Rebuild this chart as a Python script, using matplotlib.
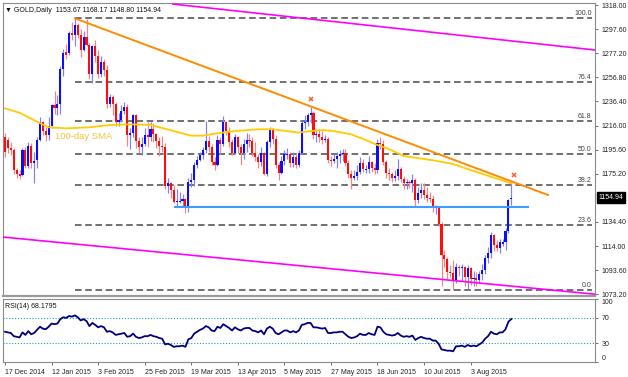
import matplotlib
matplotlib.use('Agg')
import matplotlib.pyplot as plt

plt.rcParams['font.family'] = ['Liberation Sans', 'DejaVu Sans']
plt.rcParams['font.size'] = 5

# ── data (daily bars, 17 Dec 2014 .. 21 Aug 2015) ────────────────────────────
opens = [
    1206, 1204, 1197, 1195, 1178, 1175, 1174, 1195, 1182, 1199,
    1184, 1187, 1204, 1219, 1211, 1208, 1216, 1233, 1231, 1234,
    1264, 1278, 1277, 1294, 1293, 1301, 1293, 1280, 1291, 1284,
    1260, 1283, 1275, 1260, 1270, 1263, 1234, 1240, 1234, 1219,
    1221, 1228, 1232, 1208, 1210, 1225, 1203, 1198, 1200, 1208,
    1206, 1213, 1209, 1203, 1199, 1198, 1165, 1167, 1161, 1151,
    1151, 1152, 1154, 1148, 1168, 1170, 1183, 1187, 1191, 1195,
    1203, 1198, 1185, 1183, 1204, 1200, 1219, 1211, 1202, 1193,
    1206, 1198, 1193, 1200, 1204, 1203, 1193, 1189, 1185, 1193,
    1175, 1202, 1213, 1205, 1183, 1176, 1186, 1191, 1192, 1184,
    1189, 1183, 1193, 1218, 1219, 1225, 1227, 1208, 1209, 1206,
    1204, 1205, 1187, 1186, 1188, 1190, 1192, 1193, 1184, 1175,
    1172, 1173, 1177, 1184, 1178, 1179, 1185, 1180, 1178, 1201,
    1200, 1185, 1176, 1175, 1172, 1173, 1179, 1171, 1167, 1168,
    1167, 1170, 1153, 1159, 1161, 1157, 1155, 1154, 1146, 1146,
    1133, 1106, 1103, 1092, 1091, 1085, 1096, 1095, 1096, 1088,
    1095, 1086, 1087, 1085, 1090, 1094, 1104, 1108, 1123, 1115,
    1112, 1116, 1117, 1127, 1153.67,
]
highs = [
    1210, 1206, 1202, 1197, 1180, 1178, 1197, 1198, 1202, 1201,
    1194, 1206, 1223, 1220, 1215, 1223, 1234, 1245, 1242, 1266,
    1281, 1285, 1296, 1304, 1308, 1303, 1298, 1296, 1306, 1286,
    1284, 1288, 1280, 1275, 1272, 1267, 1243, 1242, 1236, 1227,
    1233, 1236, 1234, 1214, 1226, 1226, 1206, 1206, 1214, 1219,
    1219, 1218, 1210, 1206, 1207, 1201, 1172, 1168, 1166, 1162,
    1160, 1158, 1155, 1172, 1176, 1185, 1190, 1194, 1198, 1220,
    1207, 1200, 1189, 1208, 1206, 1224, 1220, 1215, 1205, 1209,
    1207, 1200, 1205, 1210, 1209, 1206, 1202, 1192, 1198, 1194,
    1204, 1215, 1214, 1208, 1185, 1190, 1195, 1197, 1194, 1194,
    1192, 1195, 1220, 1225, 1227, 1232, 1228, 1213, 1213, 1211,
    1208, 1206, 1190, 1192, 1194, 1195, 1196, 1196, 1187, 1178,
    1178, 1183, 1189, 1188, 1183, 1190, 1186, 1184, 1205, 1206,
    1204, 1187, 1180, 1177, 1178, 1188, 1181, 1173, 1171, 1170,
    1175, 1172, 1164, 1167, 1167, 1164, 1160, 1157, 1149, 1147,
    1134, 1111, 1105, 1098, 1102, 1100, 1098, 1099, 1097, 1098,
    1096, 1093, 1092, 1093, 1099, 1106, 1113, 1126, 1124, 1119,
    1120, 1120, 1129, 1154, 1168.17,
]
lows = [
    1189, 1193, 1191, 1175, 1172, 1171, 1173, 1180, 1180, 1180,
    1167, 1180, 1203, 1208, 1203, 1204, 1214, 1226, 1225, 1226,
    1258, 1272, 1276, 1288, 1283, 1290, 1274, 1279, 1283, 1255,
    1252, 1270, 1256, 1257, 1258, 1231, 1232, 1225, 1216, 1216,
    1219, 1226, 1199, 1196, 1206, 1197, 1193, 1191, 1199, 1198,
    1203, 1202, 1197, 1190, 1194, 1162, 1159, 1155, 1150, 1148,
    1150, 1148, 1142, 1143, 1164, 1165, 1180, 1186, 1188, 1193,
    1194, 1183, 1178, 1182, 1192, 1199, 1208, 1198, 1191, 1192,
    1193, 1183, 1188, 1194, 1198, 1190, 1186, 1180, 1182, 1174,
    1173, 1198, 1200, 1180, 1170, 1175, 1183, 1188, 1181, 1181,
    1180, 1181, 1192, 1213, 1216, 1218, 1205, 1202, 1202, 1200,
    1202, 1184, 1182, 1184, 1180, 1184, 1186, 1182, 1172, 1162,
    1170, 1170, 1175, 1177, 1176, 1176, 1177, 1175, 1176, 1196,
    1183, 1172, 1170, 1168, 1169, 1170, 1168, 1162, 1162, 1163,
    1160, 1148, 1150, 1155, 1154, 1151, 1151, 1143, 1141, 1131,
    1080, 1096, 1086, 1088, 1077, 1083, 1089, 1084, 1080, 1078,
    1081, 1080, 1080, 1083, 1085, 1090, 1100, 1104, 1110, 1110,
    1108, 1114, 1111, 1125, 1148.80,
]
closes = [
    1194, 1197, 1195, 1178, 1175, 1173, 1195, 1182, 1199, 1184,
    1186, 1204, 1219, 1211, 1208, 1216, 1233, 1231, 1234, 1264,
    1277, 1276, 1294, 1293, 1301, 1293, 1280, 1291, 1284, 1260,
    1283, 1275, 1260, 1270, 1263, 1234, 1240, 1234, 1219, 1221,
    1228, 1232, 1208, 1210, 1225, 1203, 1198, 1200, 1208, 1206,
    1213, 1209, 1203, 1199, 1198, 1165, 1167, 1161, 1151, 1152,
    1152, 1154, 1148, 1168, 1170, 1183, 1187, 1191, 1195, 1203,
    1198, 1185, 1183, 1204, 1200, 1219, 1211, 1202, 1193, 1206,
    1198, 1193, 1200, 1204, 1203, 1193, 1189, 1185, 1193, 1175,
    1202, 1213, 1205, 1183, 1176, 1186, 1192, 1192, 1184, 1189,
    1183, 1193, 1218, 1219, 1225, 1227, 1208, 1209, 1206, 1204,
    1205, 1187, 1186, 1188, 1190, 1192, 1193, 1184, 1175, 1172,
    1173, 1177, 1184, 1179, 1179, 1185, 1180, 1178, 1201, 1200,
    1185, 1176, 1175, 1172, 1173, 1179, 1171, 1167, 1168, 1167,
    1170, 1153, 1159, 1161, 1157, 1155, 1154, 1146, 1146, 1133,
    1106, 1103, 1092, 1091, 1085, 1096, 1095, 1096, 1088, 1095,
    1086, 1087, 1085, 1090, 1094, 1104, 1108, 1123, 1115, 1112,
    1117, 1117, 1127, 1153, 1154.94,
]
rsi = [
    48, 47, 46, 41, 40, 39, 47, 43, 49, 44,
    46, 51, 56, 53, 52, 56, 61, 60, 61, 68,
    71, 70, 73, 72, 74, 71, 66, 68, 65, 57,
    62, 59, 55, 57, 55, 48, 49, 47, 43, 44,
    45, 46, 40, 41, 45, 40, 38, 39, 41, 41,
    43, 41, 40, 38, 37, 28, 29, 27, 24, 25,
    25, 26, 24, 36, 38, 45, 48, 51, 53, 57,
    55, 50, 49, 56, 54, 60, 57, 54, 50, 55,
    52, 50, 53, 54, 54, 50, 49, 47, 50, 44,
    53, 56, 53, 46, 44, 47, 50, 50, 47, 49,
    47, 50, 59, 60, 62, 62, 55, 55, 54, 53,
    54, 46, 46, 47, 47, 48, 48, 44, 40, 38,
    39, 41, 45, 43, 43, 46, 44, 43, 56, 55,
    48, 44, 43, 42, 43, 46, 42, 40, 41, 40,
    42, 35, 38, 40, 38, 37, 37, 34, 34, 29,
    20, 19, 18, 18, 17, 25, 25, 26, 24, 27,
    25, 26, 25, 28, 31, 37, 41, 48, 45, 44,
    47, 47, 52, 64, 68.18,
]

# 100-day SMA (bar index, price)
sma_bars = [0, 5, 12, 15, 21, 29, 36, 43, 50, 58, 64, 68, 73, 79, 87, 92,
            101, 104, 109, 113, 119, 124, 128, 132, 137, 148, 154, 160, 167, 174]
sma_vals = [1230.5, 1226.8, 1218, 1214.5, 1213.6, 1214.5, 1216.4, 1217, 1216.5,
            1211.3, 1207.4, 1207.4, 1209.4, 1211.3, 1212.8, 1212.8, 1210, 1211,
            1212.2, 1211.3, 1208.5, 1203.7, 1199.5, 1196, 1190.2, 1186.2, 1183.4,
            1178.3, 1172.7, 1167]

tick_bars = [0, 16, 32, 48, 64, 80, 96, 112, 128, 144, 160]
tick_labels = ['17 Dec 2014', '12 Jan 2015', '3 Feb 2015', '25 Feb 2015',
               '19 Mar 2015', '13 Apr 2015', '5 May 2015', '27 May 2015',
               '18 Jun 2015', '10 Jul 2015', '3 Aug 2015']

price_ticks = [1318.00, 1297.60, 1277.20, 1256.80, 1236.40, 1216.00, 1195.60,
               1175.20, 1134.40, 1114.00, 1093.60, 1073.20]

fib_labels = ['100.0', '76.4', '61.8', '50.0', '38.2', '23.6', '0.0']
fib_prices = [1307.2, 1253.2, 1220.0, 1192.0, 1165.5, 1131.7, 1077.2]
fib_start = 24

# drawn objects (bar index, price)
resist_line = ([24, 186.6], [1306.7, 1157.2])     # orange, from the Jan high
channel_top = ([57.7, 202.8], [1318.8, 1279.9])   # magenta
channel_bot = ([-0.7, 202.8], [1121.6, 1073.2])   # magenta
support_bars = [58.4, 179.7]
support_price = 1147.3
cross_bars = [105.2, 174.8]
cross_prices = [1238.2, 1174.0]

last_price = 1154.94
XMIN, XMAX = -0.7, 202.75

# ── figure ───────────────────────────────────────────────────────────────────
W, H = 628, 377
fig = plt.figure(figsize=(W / 100, H / 100), dpi=100)
ax = fig.add_axes([3 / W, 1 - 296 / H, 592 / W, 293 / H])
ax2 = fig.add_axes([3 / W, 1 - 362 / H, 592 / W, 63 / H])

GRAY = '#8c8c8c'
for a in (ax, ax2):
    a.set_xlim(XMIN, XMAX)
    for sp in a.spines.values():
        sp.set_color(GRAY)
        sp.set_linewidth(0.8)
    a.yaxis.tick_right()
    a.tick_params(axis='y', direction='out', length=2.5, width=0.6, color='#555555',
                  pad=2.5, labelsize=5, labelcolor='#222222')
ax.spines['bottom'].set_linewidth(1.6)
ax.spines['bottom'].set_color('#9a9a9a')

# fib levels
for lab, p in zip(fib_labels, fib_prices):
    ax.plot([fib_start, XMAX - 1.2], [p, p], color='#5e5e5e', lw=1.25,
            dashes=(3.8, 2.1), zorder=1)
    ax.text(XMAX - 1.2, p + 0.6, lab, ha='right', va='bottom', fontsize=5,
            color='#404040', zorder=5)

# candles
for i, (o, h, l, c) in enumerate(zip(opens, highs, lows, closes)):
    up = c >= o
    wick = '#8080ff' if up else '#ff8080'
    body = '#0c0cff' if up else '#ff0c0c'
    ax.plot([i, i], [l, h], color=wick, lw=0.85, zorder=2, solid_capstyle='butt')
    lo, hi = min(o, c), max(o, c)
    if hi - lo < 0.6:
        hi = lo + 0.6
    ax.bar(i, hi - lo, bottom=lo, width=0.72, color=body, linewidth=0, zorder=3)

# indicators and objects
ax.plot(sma_bars, sma_vals, color='#ffcc00', lw=1.3, zorder=4)
ax.text(17, 1205, '100-day SMA', fontsize=6.8, color='#f2c33a', zorder=5)
ax.plot(*resist_line, color='#ff8c00', lw=1.4, zorder=4)
ax.plot(*channel_top, color='#ff00ff', lw=1.2, zorder=4)
ax.plot(*channel_bot, color='#ff00ff', lw=1.2, zorder=4)
ax.plot(support_bars, [support_price, support_price], color='#3d9cff', lw=1.5, zorder=4)
ax.plot(cross_bars, cross_prices, ls='none', marker='x', ms=3.5, mew=1.1,
        color='#ff5a36', zorder=6)

ax.set_ylim(1071.7, 1319.7)
ax.set_yticks(price_ticks)
ax.set_yticklabels([f'{p:.2f}' for p in price_ticks])
ax.set_xticks([])
ax.text(0.004, 0.985, '\u25bc GOLD,Daily  1153.67 1168.17 1148.80 1154.94',
        transform=ax.transAxes, ha='left', va='top', fontsize=5, color='#111111')
ax.annotate(f'{last_price:.2f}', xy=(1.0, last_price), xycoords=('axes fraction', 'data'),
            xytext=(2.5, 0), textcoords='offset points', ha='left', va='center',
            fontsize=5, color='white', annotation_clip=False,
            bbox=dict(boxstyle='square,pad=0.25', fc='black', ec='black'))

# RSI panel
ax2.plot(range(len(rsi)), rsi, color='#000080', lw=1.3, zorder=3)
for lvl in (70, 30):
    ax2.axhline(lvl, color='#20a0a0', lw=0.8, ls=(0, (1, 1.6)), zorder=1)
ax2.set_ylim(0, 100)
ax2.set_yticks([100, 70, 30, 0])
ax2.set_yticklabels(['100', '70', '30', '0'])
tl = ax2.get_yticklabels()
tl[0].set_va('top')
tl[3].set_va('bottom')
ax2.text(0.004, 0.93, 'RSI(14) 68.1795', transform=ax2.transAxes,
         ha='left', va='top', fontsize=5, color='#111111')
ax2.set_xticks(tick_bars)
ax2.set_xticklabels(tick_labels, ha='left')
ax2.tick_params(axis='x', direction='out', length=2.5, width=0.6, color='#555555',
                pad=2.5, labelsize=5, labelcolor='#222222')

fig.savefig('out.png', dpi=100)
